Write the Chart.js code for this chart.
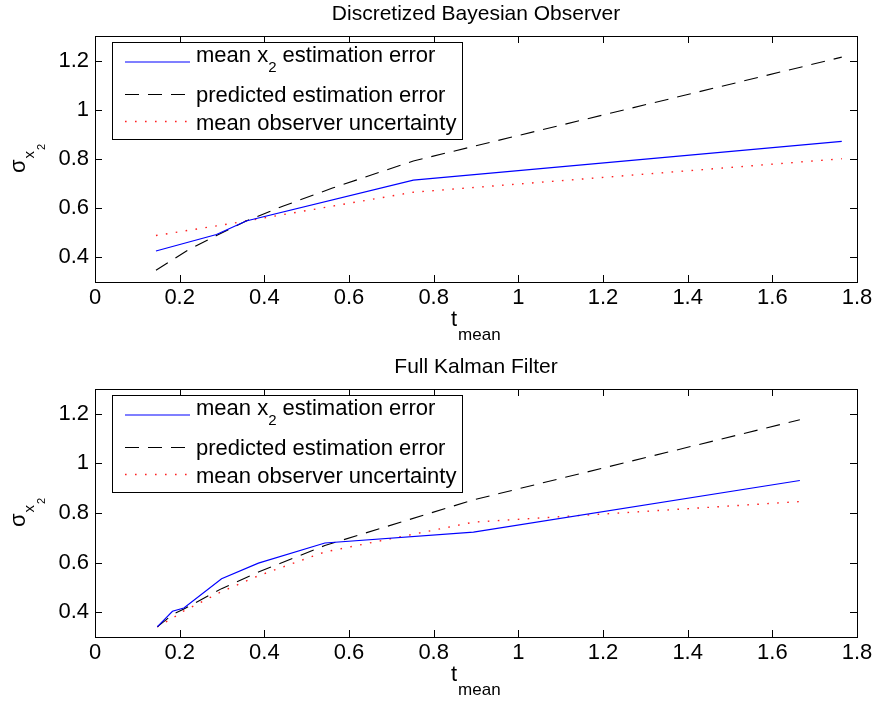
<!DOCTYPE html>
<html>
<head>
<meta charset="utf-8">
<script src="https://cdn.jsdelivr.net/npm/chart.js@4.4.0/dist/chart.umd.min.js"></script>
<style>
  body { margin: 0; background: #fff; }
  .panel { position: absolute; left: 0; width: 877px; height: 351px; }
</style>
</head>
<body>
<div class="panel" style="top:0"><canvas id="bayesChart" width="877" height="351"></canvas></div>
<div class="panel" style="top:351px"><canvas id="kalmanChart" width="877" height="351"></canvas></div>
<script>
// axis ticks (same for both panels)
var xTicks = [0, 0.2, 0.4, 0.6, 0.8, 1, 1.2, 1.4, 1.6, 1.8];
var yTicks = [0.4, 0.6, 0.8, 1, 1.2];

var legendLabels = ["mean x_2 estimation error", "predicted estimation error", "mean observer uncertainty"];

// discretized bayesian observer
var bayesErrT = [0.144, 0.287, 0.357, 0.752, 1.764];
var bayesErr = [0.426, 0.493, 0.548, 0.714, 0.872];
var bayesPredT = [0.144, 0.220, 0.287, 0.357, 0.445, 0.561, 0.752, 1.764];
var bayesPred = [0.348, 0.430, 0.489, 0.548, 0.609, 0.682, 0.792, 1.214];
var bayesUncT = [0.144, 0.287, 0.357, 0.752, 1.764];
var bayesUnc = [0.489, 0.528, 0.548, 0.665, 0.801];

// full kalman filter
var kalmanT = [0.147, 0.183, 0.210, 0.299, 0.386, 0.543, 0.894, 1.665];
var kalmanErr = [0.341, 0.404, 0.417, 0.535, 0.598, 0.679, 0.723, 0.931];
var kalmanPred = [0.341, 0.390, 0.413, 0.495, 0.562, 0.669, 0.853, 1.176];
var kalmanUnc = [0.341, 0.376, 0.405, 0.483, 0.547, 0.643, 0.763, 0.846];

var FONT = '"Liberation Sans", Arial, Helvetica, sans-serif';
Chart.defaults.font.family = FONT;

function toPoints(xs, ys) {
  var pts = [];
  for (var i = 0; i < xs.length; i++) {
    pts.push({ x: xs[i], y: ys[i] });
  }
  return pts;
}

var seriesStyle = [
  { color: "#0000ff", dash: [], width: 1.2 },
  { color: "#000000", dash: [14, 9], width: 1.1 },
  { color: "#ff2020", dash: [1.6, 8.4], width: 1.4 }
];

// draws text with an optional "_2" style subscript
function drawWithSub(ctx, text, x, y, size, subSize, subDrop) {
  var parts = text.split("_");
  ctx.font = size + "px " + FONT;
  ctx.fillText(parts[0], x, y);
  x += ctx.measureText(parts[0]).width;
  if (parts.length > 1) {
    var sub = parts[1].charAt(0);
    var rest = parts[1].slice(1);
    ctx.font = subSize + "px " + FONT;
    ctx.fillText(sub, x, y + subDrop);
    x += ctx.measureText(sub).width;
    ctx.font = size + "px " + FONT;
    ctx.fillText(rest, x, y);
  }
}

// matlab-like frame: box, inward ticks, title, axis labels, legend
var framePlugin = {
  id: "matlabFrame",
  afterDraw: function (chart, args, opts) {
    var ctx = chart.ctx;
    var a = chart.chartArea;
    var xs = chart.scales.x;
    var ys = chart.scales.y;
    var tl = 7;
    ctx.save();
    ctx.strokeStyle = "#000";
    ctx.lineWidth = 1;
    ctx.strokeRect(Math.round(a.left) + 0.5, Math.round(a.top) + 0.5,
      Math.round(a.right - a.left), Math.round(a.bottom - a.top));
    ctx.beginPath();
    xTicks.forEach(function (v) {
      var px = Math.round(xs.getPixelForValue(v)) + 0.5;
      ctx.moveTo(px, a.bottom); ctx.lineTo(px, a.bottom - tl);
      ctx.moveTo(px, a.top); ctx.lineTo(px, a.top + tl);
    });
    yTicks.forEach(function (v) {
      var py = Math.round(ys.getPixelForValue(v)) + 0.5;
      ctx.moveTo(a.left, py); ctx.lineTo(a.left + tl, py);
      ctx.moveTo(a.right, py); ctx.lineTo(a.right - tl, py);
    });
    ctx.stroke();

    ctx.fillStyle = "#000";
    // title
    ctx.font = "21px " + FONT;
    ctx.textAlign = "center";
    ctx.textBaseline = "alphabetic";
    ctx.fillText(opts.title, (a.left + a.right) / 2, a.top - 16);

    // x label: t_mean
    ctx.textAlign = "left";
    ctx.font = "22px " + FONT;
    var tx = (a.left + a.right) / 2 - 25;
    ctx.fillText("t", tx, a.bottom + 44);
    var tw = ctx.measureText("t").width;
    ctx.font = "17px " + FONT;
    ctx.fillText("mean", tx + tw + 1, a.bottom + 58);

    // y label: sigma_x2, rotated
    ctx.save();
    ctx.translate(25, (a.top + a.bottom) / 2 + 14);
    ctx.rotate(-Math.PI / 2);
    ctx.font = "22px " + FONT;
    ctx.fillText("\u03c3", 0, 0);
    var sw = ctx.measureText("\u03c3").width;
    ctx.font = "15px " + FONT;
    ctx.fillText("x", sw + 1, 9);
    var xw = ctx.measureText("x").width;
    ctx.font = "11px " + FONT;
    ctx.fillText("2", sw + xw + 2, 20);
    ctx.restore();

    // legend box
    var bx = a.left + 17, by = a.top + 6, bw = 350, bh = 97;
    ctx.fillStyle = "#fff";
    ctx.fillRect(bx, by, bw, bh);
    ctx.strokeStyle = "#000";
    ctx.lineWidth = 1;
    ctx.strokeRect(Math.round(bx) + 0.5, Math.round(by) + 0.5, bw, bh);
    var lineY = [20, 52.5, 79.5];
    var textY = [20, 60, 87.5];
    for (var i = 0; i < legendLabels.length; i++) {
      var st = seriesStyle[i];
      ctx.beginPath();
      ctx.strokeStyle = st.color;
      ctx.lineWidth = st.width;
      ctx.setLineDash(st.dash);
      ctx.moveTo(bx + 13, by + lineY[i]);
      ctx.lineTo(bx + 78, by + lineY[i]);
      ctx.stroke();
      ctx.setLineDash([]);
      ctx.fillStyle = "#000";
      drawWithSub(ctx, legendLabels[i], bx + 84, by + textY[i], 22, 15, 10);
    }
    ctx.restore();
  }
};

function makeChart(id, title, series, padTop, xAxisHeight) {
  var datasets = series.map(function (pts, i) {
    var st = seriesStyle[i];
    return {
      data: pts,
      borderColor: st.color,
      borderWidth: st.width,
      borderDash: st.dash,
      pointRadius: 0,
      tension: 0,
      fill: false
    };
  });
  return new Chart(document.getElementById(id).getContext("2d"), {
    type: "line",
    data: { datasets: datasets },
    options: {
      responsive: false,
      animation: false,
      layout: { padding: { top: padTop, right: 20, left: 0, bottom: 0 } },
      scales: {
        x: {
          type: "linear",
          min: 0,
          max: 1.8,
          afterBuildTicks: function (scale) {
            scale.ticks = xTicks.map(function (v) { return { value: v }; });
          },
          afterFit: function (scale) { scale.height = xAxisHeight; },
          grid: { display: false, drawTicks: false },
          border: { display: false },
          ticks: {
            color: "#000",
            font: { size: 22 },
            padding: 3,
            maxRotation: 0,
            autoSkip: false,
            callback: function (v) { return String(Math.round(v * 10) / 10); }
          }
        },
        y: {
          type: "linear",
          min: 0.3,
          max: 1.3,
          afterBuildTicks: function (scale) {
            scale.ticks = yTicks.map(function (v) { return { value: v }; });
          },
          afterFit: function (scale) { scale.width = 95; },
          grid: { display: false, drawTicks: false },
          border: { display: false },
          ticks: {
            color: "#000",
            font: { size: 22 },
            padding: 6,
            callback: function (v) { return String(Math.round(v * 10) / 10); }
          }
        }
      },
      plugins: {
        legend: { display: false },
        tooltip: { enabled: false },
        matlabFrame: { title: title }
      }
    },
    plugins: [framePlugin]
  });
}

makeChart("bayesChart", "Discretized Bayesian Observer", [
  toPoints(bayesErrT, bayesErr),
  toPoints(bayesPredT, bayesPred),
  toPoints(bayesUncT, bayesUnc)
], 36, 69);

makeChart("kalmanChart", "Full Kalman Filter", [
  toPoints(kalmanT, kalmanErr),
  toPoints(kalmanT, kalmanPred),
  toPoints(kalmanT, kalmanUnc)
], 38, 65);
</script>
</body>
</html>
